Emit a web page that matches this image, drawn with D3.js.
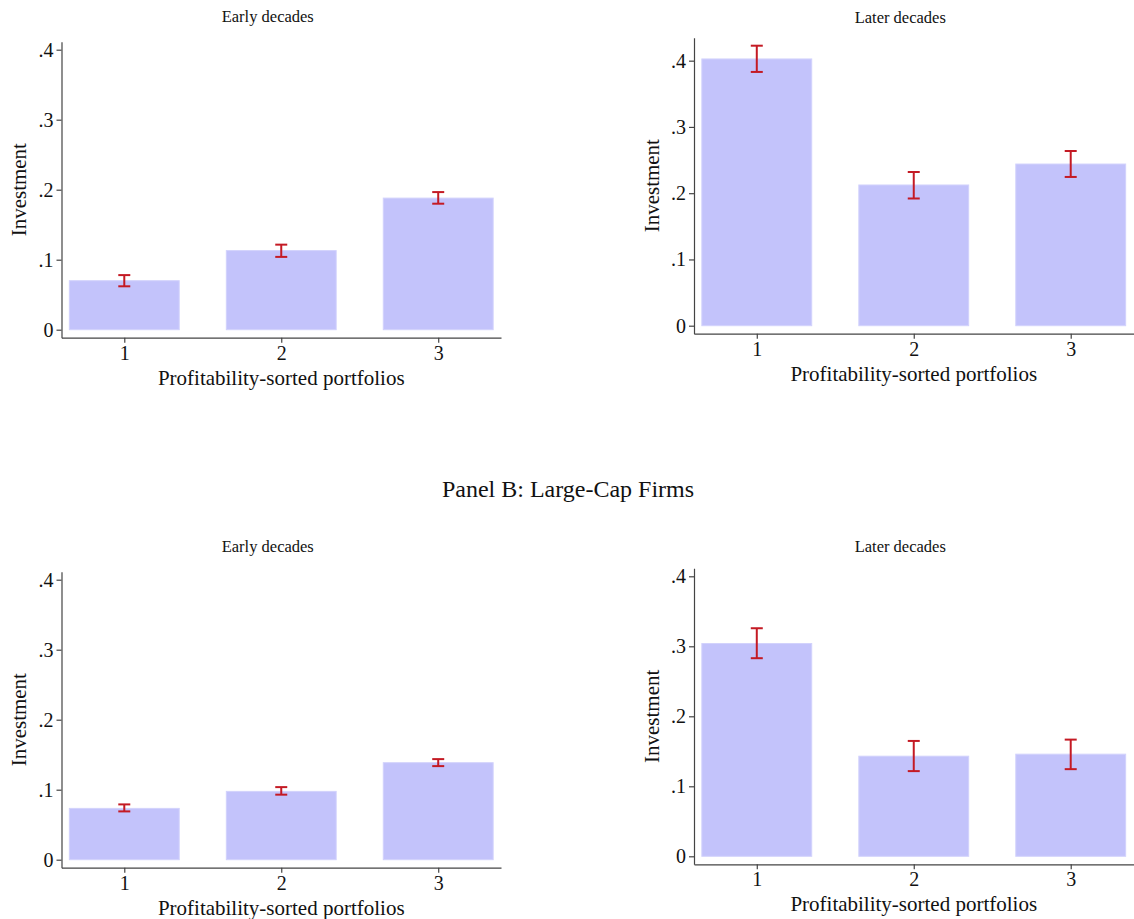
<!DOCTYPE html>
<html>
<head>
<meta charset="utf-8">
<script src="https://cdn.jsdelivr.net/npm/d3@7"></script>
<style>
  body { margin: 0; background: #fff; }
  svg text { font-family: "Liberation Serif", "Times New Roman", serif; }
</style>
</head>
<body>
<svg id="chart" width="1134" height="919"></svg>
<script>
// portfolios on the x axis
const portfolios = [1, 2, 3];
const yTicks = [0, 0.1, 0.2, 0.3, 0.4];

// Panel A (top row)
const aEarlyMean = [0.070, 0.113, 0.188];
const aEarlyLo   = [0.062, 0.104, 0.180];
const aEarlyHi   = [0.078, 0.1215, 0.1966];

const aLaterMean = [0.4026, 0.2124, 0.244];
const aLaterLo   = [0.383, 0.192, 0.2245];
const aLaterHi   = [0.4226, 0.232, 0.2637];

// Panel B: Large-Cap Firms
const bEarlyMean = [0.0733, 0.0976, 0.1386];
const bEarlyLo   = [0.069, 0.0929, 0.1337];
const bEarlyHi   = [0.079, 0.1037, 0.1437];

const bLaterMean = [0.304, 0.143, 0.1459];
const bLaterLo   = [0.283, 0.1217, 0.1245];
const bLaterHi   = [0.3258, 0.1648, 0.1667];

const svg = d3.select("#chart");
const serif = "'Liberation Serif', 'Times New Roman', serif";

const W = 439.5, H = 296;

const panels = [
  { title: "Early decades", mean: aEarlyMean, lo: aEarlyLo, hi: aEarlyHi, x: 61.5, y: 41.7, titleY: 16.7 },
  { title: "Later decades", mean: aLaterMean, lo: aLaterLo, hi: aLaterHi, x: 694, y: 37.7, titleY: 17 },
  { title: "Early decades", mean: bEarlyMean, lo: bEarlyLo, hi: bEarlyHi, x: 61.5, y: 571.7, titleY: 546.7 },
  { title: "Later decades", mean: bLaterMean, lo: bLaterLo, hi: bLaterHi, x: 694, y: 568.3, titleY: 546.7 }
];

panels.forEach(drawPanel);

svg.append("text")
  .attr("x", 568)
  .attr("y", 489)
  .attr("text-anchor", "middle")
  .attr("dominant-baseline", "central")
  .style("font-family", serif)
  .style("font-size", "24px")
  .attr("fill", "#111")
  .text("Panel B: Large-Cap Firms");

function drawPanel(p) {
  const g = svg.append("g")
    .attr("transform", `translate(${p.x},${p.y})`);

  const rows = portfolios.map((k, i) => ({ k, mean: p.mean[i], lo: p.lo[i], hi: p.hi[i] }));

  const x = d3.scaleLinear()
    .domain([0.6, 3.4])
    .range([0, W]);

  // 8px padding around [0, top value]
  const top = Math.max(0.4, d3.max(rows, d => d.hi));
  const y0 = d3.scaleLinear().domain([0, top]).range([H - 8, 8]);
  const y = d3.scaleLinear()
    .domain([y0.invert(H), y0.invert(0)])
    .range([H, 0]);

  // bars
  g.selectAll("rect.bar")
    .data(rows)
    .join("rect")
    .attr("class", "bar")
    .attr("x", d => x(d.k - 0.35))
    .attr("width", x(0.7) - x(0))
    .attr("y", d => y(d.mean))
    .attr("height", d => y(0) - y(d.mean))
    .attr("fill", "#c3c3fb")
    .attr("stroke", "#d2d2fc")
    .attr("stroke-width", 1);

  // error bars
  const eb = g.selectAll("g.err")
    .data(rows)
    .join("g")
    .attr("class", "err")
    .attr("stroke", "#c41a24")
    .attr("stroke-width", 2);

  eb.append("line")
    .attr("x1", d => x(d.k)).attr("x2", d => x(d.k))
    .attr("y1", d => y(d.lo)).attr("y2", d => y(d.hi));
  eb.append("line")
    .attr("x1", d => x(d.k) - 6).attr("x2", d => x(d.k) + 6)
    .attr("y1", d => y(d.hi)).attr("y2", d => y(d.hi));
  eb.append("line")
    .attr("x1", d => x(d.k) - 6).attr("x2", d => x(d.k) + 6)
    .attr("y1", d => y(d.lo)).attr("y2", d => y(d.lo));

  // axes
  const yAxis = g.append("g")
    .call(d3.axisLeft(y)
      .tickValues(yTicks)
      .tickSize(5)
      .tickSizeOuter(0)
      .tickPadding(3)
      .tickFormat(d => d === 0 ? "0" : d3.format(".1f")(d).replace(/^0/, "")));

  const xAxis = g.append("g")
    .attr("transform", `translate(0,${H})`)
    .call(d3.axisBottom(x)
      .tickValues(portfolios)
      .tickSize(5)
      .tickSizeOuter(0)
      .tickPadding(3)
      .tickFormat(d3.format("d")));

  [yAxis, xAxis].forEach(a => {
    a.attr("font-family", null).attr("font-size", null);
    a.select(".domain").attr("stroke", "#444").attr("stroke-width", 1.2);
    a.selectAll(".tick line").attr("stroke", "#444").attr("stroke-width", 1.2);
    a.selectAll(".tick text")
      .style("font-family", serif)
      .style("font-size", "20px")
      .attr("fill", "#111");
  });

  // titles
  svg.append("text")
    .attr("x", p.x + W / 2 - 13.5)
    .attr("y", p.titleY)
    .attr("text-anchor", "middle")
    .attr("dominant-baseline", "central")
    .style("font-family", serif)
    .style("font-size", "16.5px")
    .attr("fill", "#111")
    .text(p.title);

  g.append("text")
    .attr("x", W / 2)
    .attr("y", H + 40)
    .attr("text-anchor", "middle")
    .attr("dominant-baseline", "central")
    .style("font-family", serif)
    .style("font-size", "21px")
    .attr("fill", "#111")
    .text("Profitability-sorted portfolios");

  g.append("text")
    .attr("transform", `translate(-42.5,${H / 2}) rotate(-90)`)
    .attr("text-anchor", "middle")
    .attr("dominant-baseline", "central")
    .style("font-family", serif)
    .style("font-size", "21px")
    .attr("fill", "#111")
    .text("Investment");
}
</script>
</body>
</html>
